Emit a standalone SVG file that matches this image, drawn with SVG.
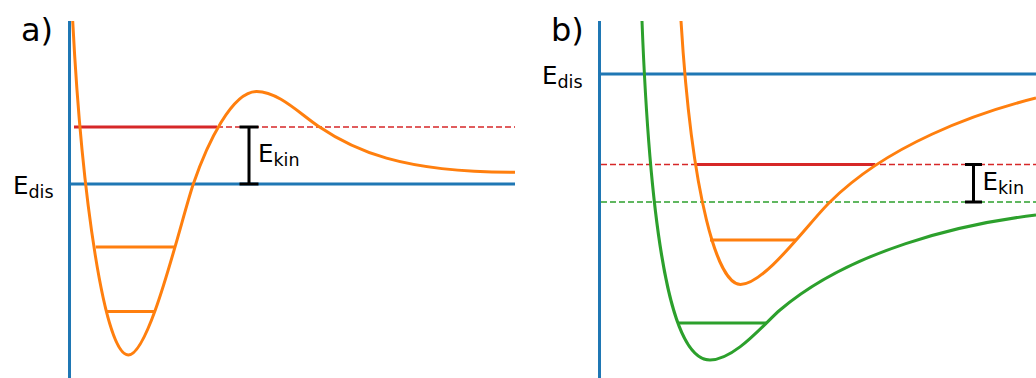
<svg xmlns="http://www.w3.org/2000/svg" width="1036" height="378" viewBox="0 0 1036 378">
<style>
.ax{stroke:#1f77b4;stroke-width:3;fill:none}
.or{stroke:#ff7f0e;stroke-width:3;fill:none}
.gr{stroke:#2ca02c;stroke-width:3;fill:none}
.rd{stroke:#d62728;stroke-width:3;fill:none}
.dr{stroke:#d62728;stroke-width:1.5;stroke-dasharray:6 3;fill:none}
.dg{stroke:#2ca02c;stroke-width:1.5;stroke-dasharray:6 3;fill:none}
.bar{stroke:#000;stroke-width:3;fill:none}
.t{font-family:"DejaVu Sans",sans-serif;fill:#000}
</style>
<g id="panel-a">
  <text class="t" x="21" y="41" font-size="32">a)</text>
  <line class="ax" x1="69.5" y1="21" x2="69.5" y2="378"/>
  <line class="ax" x1="69.5" y1="184" x2="515" y2="184"/>
  <text class="t" x="13" y="193.5" font-size="24.5">E<tspan font-size="17.5" dy="4">dis</tspan></text>
  <line class="dr" x1="217" y1="127" x2="515" y2="127"/>
  <line class="rd" x1="74" y1="127" x2="217" y2="127"/>
  <line class="or" x1="95.7" y1="247" x2="175.5" y2="247"/>
  <line class="or" x1="106" y1="311.5" x2="154" y2="311.5"/>
  <path class="or" d="M72.7,21 C82,200 105,355 128.3,355 C150,355 181,220 193.3,184 C207.3,143.4 232,91.5 256.7,91.5 C278,91.5 300,113.8 318,126 C353,149.8 400,172.5 515,172.3"/>
  <g id="ekin-a">
    <line class="bar" x1="249" y1="127" x2="249" y2="184"/>
    <line class="bar" x1="239.5" y1="127" x2="258.5" y2="127"/>
    <line class="bar" x1="239.5" y1="184" x2="258.5" y2="184"/>
    <text class="t" x="258" y="161.7" font-size="24.5">E<tspan font-size="17.5" dy="4">kin</tspan></text>
  </g>
</g>
<g id="panel-b">
  <text class="t" x="551" y="41" font-size="32">b)</text>
  <line class="ax" x1="599.5" y1="21" x2="599.5" y2="378"/>
  <line class="ax" x1="599.5" y1="74" x2="1036" y2="74"/>
  <text class="t" x="542" y="83.5" font-size="24.5">E<tspan font-size="17.5" dy="4">dis</tspan></text>
  <line class="dr" x1="601" y1="164.5" x2="1036" y2="164.5"/>
  <line class="rd" x1="695.5" y1="164.5" x2="875" y2="164.5"/>
  <line class="dg" x1="601" y1="202" x2="1036" y2="202"/>
  <line class="or" x1="710" y1="240" x2="796" y2="240"/>
  <line class="gr" x1="678.5" y1="323" x2="766.5" y2="323"/>
  <path class="gr" d="M642,21 C652,280 678,360 710,360 C735,360 765,322.75 780,310 C850,250.5 960,224 1036,215"/>
  <path class="or" d="M681,21 C692,200 718,284.5 740.5,284.5 C765,284.5 810,221 830,202 C887,145 976,113 1036,98"/>
  <g id="ekin-b">
    <line class="bar" x1="973.5" y1="164.5" x2="973.5" y2="202"/>
    <line class="bar" x1="965" y1="164.5" x2="982" y2="164.5"/>
    <line class="bar" x1="965" y1="202" x2="982" y2="202"/>
    <text class="t" x="982.5" y="190" font-size="24.5">E<tspan font-size="17.5" dy="4">kin</tspan></text>
  </g>
</g>
</svg>
